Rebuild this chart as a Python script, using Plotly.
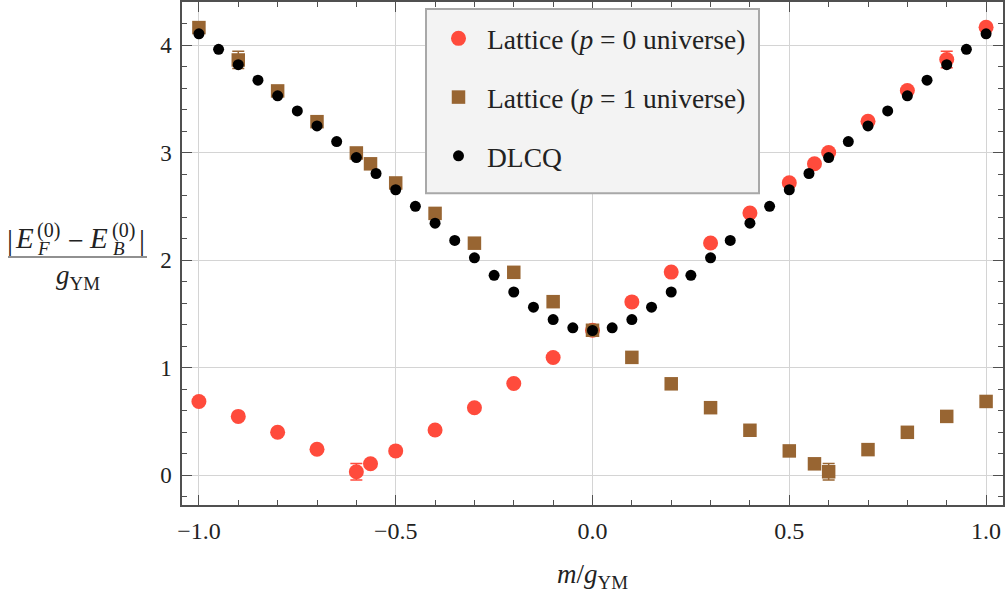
import plotly.graph_objects as go

# DLCQ spectrum
m_dlcq = [-1.00, -0.95, -0.90, -0.85, -0.80, -0.75, -0.70, -0.65, -0.60, -0.55,
          -0.50, -0.45, -0.40, -0.35, -0.30, -0.25, -0.20, -0.15, -0.10, -0.05,
          0.00, 0.05, 0.10, 0.15, 0.20, 0.25, 0.30, 0.35, 0.40, 0.45,
          0.50, 0.55, 0.60, 0.65, 0.70, 0.75, 0.80, 0.85, 0.90, 0.95, 1.00]
gap_dlcq = [4.107, 3.963, 3.820, 3.676, 3.530, 3.390, 3.250, 3.105, 2.956, 2.808,
            2.657, 2.503, 2.346, 2.186, 2.024, 1.861, 1.706, 1.565, 1.450, 1.373,
            1.348, 1.373, 1.450, 1.565, 1.706, 1.861, 2.024, 2.186, 2.346, 2.503,
            2.657, 2.808, 2.956, 3.105, 3.250, 3.390, 3.530, 3.676, 3.820, 3.963, 4.107]

# Lattice results
m_lat = [-1.0, -0.9, -0.8, -0.7, -0.6, -0.564, -0.5, -0.4, -0.3, -0.2, -0.1, 0.0,
         0.1, 0.2, 0.3, 0.4, 0.5, 0.564, 0.6, 0.7, 0.8, 0.9, 1.0]
gap_p0 = [0.688, 0.549, 0.401, 0.244, 0.034, 0.108, 0.228, 0.422, 0.630, 0.855, 1.097, 1.350,
          1.614, 1.891, 2.162, 2.440, 2.722, 2.898, 3.003, 3.294, 3.580, 3.868, 4.168]
err_p0 = [0, 0, 0, 0, 0.077, 0, 0, 0, 0, 0, 0, 0,
          0, 0, 0, 0, 0, 0, 0, 0, 0, 0.077, 0]
gap_p1 = [4.165, 3.864, 3.576, 3.290, 2.999, 2.898, 2.720, 2.437, 2.160, 1.889, 1.616, 1.350,
          1.098, 0.852, 0.630, 0.420, 0.228, 0.108, 0.034, 0.240, 0.401, 0.549, 0.688]
err_p1 = [0, 0.080, 0, 0, 0, 0, 0, 0, 0, 0, 0, 0,
          0, 0, 0, 0, 0, 0, 0.077, 0, 0, 0, 0]

x_tickvals = [-1.0, -0.5, 0.0, 0.5, 1.0]
x_ticktext = ["\u22121.0", "\u22120.5", "0.0", "0.5", "1.0"]
y_tickvals = [0, 1, 2, 3, 4]
y_ticktext = ["0", "1", "2", "3", "4"]

RED = "#FF4B3C"
BROWN = "#986532"
SERIF = "Liberation Serif"
INK = "#222222"
FRAME = "#505050"
GRID = "#D4D4D4"

fig = go.Figure()
fig.add_trace(go.Scatter(
    x=m_lat, y=gap_p0, mode="markers", name="Lattice (<i>p</i> = 0 universe)",
    legendgroup="a",
    marker=dict(symbol="circle", size=15, color=RED, line=dict(width=0)),
    error_y=dict(type="data", array=err_p0, color=RED, thickness=1.5, width=6),
))
fig.add_trace(go.Scatter(
    x=m_lat, y=gap_p1, mode="markers", name="Lattice (<i>p</i> = 1 universe)",
    legendgroup="b",
    marker=dict(symbol="square", size=13.5, color=BROWN, line=dict(width=0)),
    error_y=dict(type="data", array=err_p1, color=BROWN, thickness=1.5, width=6),
))
fig.add_trace(go.Scatter(
    x=m_dlcq, y=gap_dlcq, mode="markers", name="DLCQ",
    legendgroup="c",
    marker=dict(symbol="circle", size=11, color="black", line=dict(width=0)),
))

# plot area in pixels
L, T, W, H = 182, 0, 821, 505


def px(xp):
    return (xp - L) / W


def py(yp):
    return 1 - (yp - T) / H


axis_common = dict(
    showline=True, linecolor=FRAME, linewidth=1.5, mirror="ticks",
    ticks="inside", ticklen=10, tickwidth=1, tickcolor=FRAME,
    showgrid=True, gridcolor=GRID, gridwidth=1, zeroline=False,
)

fig.update_xaxes(
    range=[-1.043, 1.043], tickvals=x_tickvals, ticktext=x_ticktext,
    ticklabelstandoff=3,
    tickfont=dict(family=SERIF, size=24, color=INK),
    minor=dict(dtick=0.1, tick0=0, ticks="inside", ticklen=5, tickcolor=FRAME, showgrid=False),
    **axis_common,
)
fig.update_yaxes(
    range=[-0.275, 4.403], tickvals=y_tickvals, ticktext=y_ticktext,
    ticklabelstandoff=4,
    tickfont=dict(family=SERIF, size=23, color=INK),
    minor=dict(dtick=0.2, tick0=0, ticks="inside", ticklen=5, tickcolor=FRAME, showgrid=False),
    **axis_common,
)

shapes = [
    # legend panel
    dict(type="rect", xref="paper", yref="paper", x0=px(426), x1=px(759), y0=py(192), y1=py(7),
         fillcolor="#F3F3F3", line=dict(color="#A8A8A8", width=2), layer="above"),
    # fraction bar of the y label
    dict(type="line", xref="paper", yref="paper", x0=px(8), x1=px(147), y0=py(256), y1=py(256),
         line=dict(color=INK, width=1.2)),
]


def lbl(x, y, text, size):
    return dict(xref="paper", yref="paper", x=px(x), y=py(y), xanchor="center", yanchor="middle",
                text=text, showarrow=False, font=dict(family=SERIF, size=size, color=INK))


annotations = [
    # numerator |E_F^(0) - E_B^(0)|
    lbl(10, 238, "|", 30),
    lbl(24, 237, "<i>E</i>", 29),
    lbl(48, 229, "(0)", 20),
    lbl(43, 247, "<i>F</i>", 19),
    lbl(76, 239, "\u2212", 28),
    lbl(98, 237, "<i>E</i>", 29),
    lbl(123, 229, "(0)", 20),
    lbl(119, 247, "<i>B</i>", 19),
    lbl(142, 238, "|", 30),
    # denominator
    lbl(78, 276, "<i>g</i><sub>YM</sub>", 27),
    # x axis title
    lbl(592, 576, "<i>m</i>/<i>g</i><sub>YM</sub>", 27),
]

fig.update_layout(
    width=1005, height=592,
    margin=dict(l=L, r=1005 - L - W, t=T, b=592 - T - H),
    paper_bgcolor="white", plot_bgcolor="white",
    showlegend=True,
    legend=dict(
        x=px(430), y=py(12), xanchor="left", yanchor="top",
        bgcolor="rgba(0,0,0,0)", borderwidth=0,
        font=dict(family=SERIF, size=27.5, color=INK),
        tracegroupgap=20, itemwidth=47, traceorder="grouped",
    ),
    shapes=shapes,
    annotations=annotations,
)

fig.write_html("out.html")
